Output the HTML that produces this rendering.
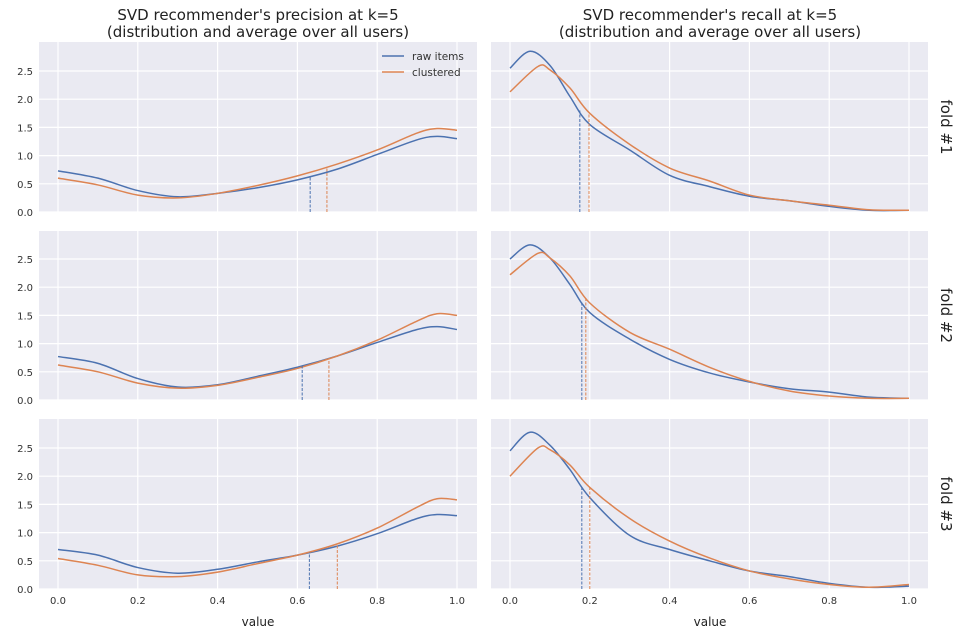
<!DOCTYPE html>
<html><head><meta charset="utf-8"><style>
body{margin:0;background:#fff;}
svg{display:block;font-family:"DejaVu Sans","Liberation Sans",sans-serif;}
.tk{font-size:10px;fill:#333;}
</style></head><body>
<svg id="c" width="960" height="636" viewBox="0 0 960 636"></svg>
<script>
const xs = [0,0.1,0.2,0.3,0.4,0.5,0.6,0.7,0.8,0.9,0.95,1.0];
const xsR = [0,0.05,0.1,0.15,0.2,0.3,0.4,0.5,0.6,0.7,0.8,0.9,1.0];
const xsR2 = [0,0.07,0.1,0.15,0.2,0.3,0.4,0.5,0.6,0.7,0.8,0.9,1.0];
const p1raw = [0.73,0.6,0.38,0.27,0.33,0.43,0.57,0.76,1.02,1.28,1.34,1.3];
const p1clu = [0.6,0.48,0.3,0.25,0.33,0.47,0.64,0.85,1.1,1.4,1.48,1.45];
const p2raw = [0.77,0.65,0.38,0.23,0.27,0.42,0.58,0.78,1.02,1.25,1.3,1.25];
const p2clu = [0.62,0.5,0.3,0.21,0.26,0.4,0.56,0.78,1.06,1.4,1.53,1.5];
const p3raw = [0.7,0.6,0.38,0.28,0.35,0.48,0.6,0.76,0.98,1.25,1.32,1.3];
const p3clu = [0.54,0.42,0.25,0.22,0.3,0.45,0.6,0.8,1.08,1.45,1.6,1.58];
const r1raw = [2.55,2.85,2.6,2.05,1.55,1.1,0.65,0.45,0.28,0.2,0.1,0.03,0.03];
const r1clu = [2.13,2.58,2.52,2.2,1.75,1.2,0.78,0.55,0.3,0.2,0.12,0.04,0.03];
const r2raw = [2.5,2.75,2.52,2.05,1.55,1.08,0.72,0.48,0.32,0.2,0.14,0.05,0.03];
const r2clu = [2.22,2.6,2.52,2.2,1.72,1.2,0.9,0.58,0.33,0.16,0.07,0.03,0.03];
const r3raw = [2.45,2.78,2.55,2.12,1.62,0.95,0.7,0.5,0.32,0.22,0.1,0.03,0.05];
const r3clu = [2.0,2.5,2.47,2.2,1.8,1.25,0.85,0.55,0.32,0.18,0.08,0.03,0.08];
const meansP = [[0.632,0.674],[0.612,0.679],[0.63,0.70]];
const meansR = [[0.175,0.198],[0.18,0.19],[0.18,0.2]];
const xTicks = [0,0.2,0.4,0.6,0.8,1.0];
const xTickLabels = ["0.0","0.2","0.4","0.6","0.8","1.0"];
const yTicks = [0,0.5,1,1.5,2,2.5];
const yTickLabels = ["0.0","0.5","1.0","1.5","2.0","2.5"];

const svg = document.getElementById('c');
const NS = 'http://www.w3.org/2000/svg';
function mk(t, a, p){const e=document.createElementNS(NS,t);for(const k in a)e.setAttribute(k,a[k]);(p||svg).appendChild(e);return e;}
const BLUE='#4c72b0', ORANGE='#dd8452';
const cols=[{x0:39,x1:477,z:58,o:457},{x0:491,x1:928,z:510,o:909}];
const rows=[{t:42,b:212},{t:231,b:400},{t:419,b:589}];
const ppu=56.4;
function smooth(pts){let d='M'+pts[0][0]+','+pts[0][1];for(let i=0;i<pts.length-1;i++){const p0=pts[Math.max(0,i-1)],p1=pts[i],p2=pts[i+1],p3=pts[Math.min(pts.length-1,i+2)];const c1=[p1[0]+(p2[0]-p0[0])/6,p1[1]+(p2[1]-p0[1])/6],c2=[p2[0]-(p3[0]-p1[0])/6,p2[1]-(p3[1]-p1[1])/6];d+=' C'+c1[0]+','+c1[1]+' '+c2[0]+','+c2[1]+' '+p2[0]+','+p2[1];}return d;}
function interp(X,Y,v){for(let i=0;i<X.length-1;i++){if(v>=X[i]&&v<=X[i+1]){const t=(v-X[i])/(X[i+1]-X[i]);return Y[i]+t*(Y[i+1]-Y[i]);}}return Y[Y.length-1];}
const panels=[
 [[xs,p1raw,xs,p1clu,meansP[0]],[xsR,r1raw,xsR2,r1clu,meansR[0]]],
 [[xs,p2raw,xs,p2clu,meansP[1]],[xsR,r2raw,xsR2,r2clu,meansR[1]]],
 [[xs,p3raw,xs,p3clu,meansP[2]],[xsR,r3raw,xsR2,r3clu,meansR[2]]]];
rows.forEach((r,ri)=>{cols.forEach((c,ci)=>{
 const g=mk('g',{});
 
 
 mk('rect',{x:c.x0,y:r.t,width:c.x1-c.x0,height:r.b-r.t,fill:'#eaeaf2'},g);
 const X=v=>c.z+v*(c.o-c.z), Y=v=>r.b-v*ppu;
 xTicks.forEach((t,i)=>{mk('line',{x1:X(t),x2:X(t),y1:r.t,y2:r.b,stroke:'#fff','stroke-width':1.2},g);
  if(ri==2){const tx=mk('text',{x:X(t),y:r.b+15,'text-anchor':'middle',class:'tk'},g);tx.textContent=xTickLabels[i];}});
 yTicks.forEach((t,i)=>{mk('line',{x1:c.x0,x2:c.x1,y1:Y(t),y2:Y(t),stroke:'#fff','stroke-width':1.2},g);
  if(ci==0){const tx=mk('text',{x:c.x0-6,y:Y(t)+4,'text-anchor':'end',class:'tk'},g);tx.textContent=yTickLabels[i];}});
 const [ax,ay,bx,by,m]=panels[ri][ci];
 const pa=mk('path',{d:smooth(ax.map((v,i)=>[X(v),Y(ay[i])])),fill:'none',stroke:BLUE,'stroke-width':1.5},g);
 
 const pb=mk('path',{d:smooth(bx.map((v,i)=>[X(v),Y(by[i])])),fill:'none',stroke:ORANGE,'stroke-width':1.5},g);
 
 const la=mk('line',{x1:X(m[0]),x2:X(m[0]),y1:r.b,y2:Y(interp(ax,ay,m[0])),stroke:BLUE,'stroke-width':1,'stroke-dasharray':'3,1.5'},g);
 
 const lb=mk('line',{x1:X(m[1]),x2:X(m[1]),y1:r.b,y2:Y(interp(bx,by,m[1])),stroke:ORANGE,'stroke-width':1,'stroke-dasharray':'3,1.5'},g);
 
});
 const fl=mk('text',{x:0,y:0,'font-size':15,fill:'#222',transform:'translate(941,'+((r.t+r.b)/2)+') rotate(90)','text-anchor':'middle'});
 
 fl.textContent='fold #'+(ri+1);
});
[[258,"SVD recommender's precision at k=5"],[710,"SVD recommender's recall at k=5"]].forEach(([x,t])=>{
 const a=mk('text',{x:x,y:20,'font-size':15,fill:'#222','text-anchor':'middle'});a.textContent=t;
 
 const b=mk('text',{x:x,y:37,'font-size':15,fill:'#222','text-anchor':'middle'});b.textContent='(distribution and average over all users)';
 
});
[258,710].forEach(x=>{const t=mk('text',{x:x,y:626,'font-size':12,fill:'#222','text-anchor':'middle'});t.textContent='value';
 });
const lg=mk('g',{});

[[BLUE,'raw items',56],[ORANGE,'clustered',72]].forEach(([col,lab,y])=>{
 const e=mk('g',{},lg);
 
 mk('line',{x1:382,x2:404,y1:y,y2:y,stroke:col,'stroke-width':1.5},e);
 const t=mk('text',{x:412,y:y+4,'font-size':10.5,fill:'#333'},e);t.textContent=lab;
});
</script>
</body></html>
